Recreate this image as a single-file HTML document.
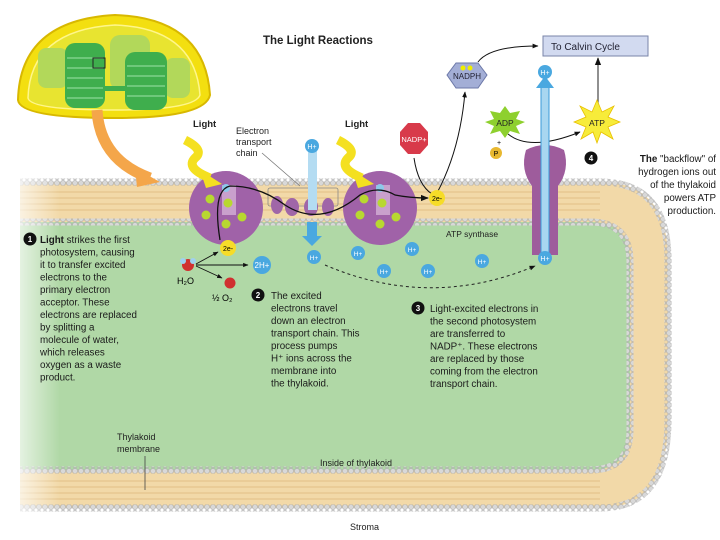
<!DOCTYPE html>
<html><head><meta charset="utf-8"><style>
body{margin:0;background:#fff;}
svg{display:block;font-family:"Liberation Sans",sans-serif;}
</style></head><body>
<svg width="720" height="540" viewBox="0 0 720 540" xmlns="http://www.w3.org/2000/svg">
<defs>
<pattern id="beads" width="6" height="6" patternUnits="userSpaceOnUse"><circle cx="3" cy="3" r="2.6" fill="#d8d8d8" stroke="#a8a8a8" stroke-width="0.6"/></pattern>
<linearGradient id="fadeL" x1="0" x2="1"><stop offset="0" stop-color="#fff" stop-opacity="1"/><stop offset="1" stop-color="#fff" stop-opacity="0"/></linearGradient>
<marker id="ah" viewBox="0 0 10 10" refX="9" refY="5" markerWidth="6" markerHeight="6" orient="auto"><path d="M0,1 L10,5 L0,9z" fill="#111"/></marker>
</defs>
<rect width="720" height="540" fill="#fff"/>

<!-- membrane -->
<path d="M20,182 H600 Q668,182 668,260 V420 Q668,508 600,508 H20 Z" fill="#f2d9a8"/>
<path d="M20,182 H600 Q668,182 668,260 V420 Q668,508 600,508 H20" fill="none" stroke="url(#beads)" stroke-width="7"/>
<g stroke="#dcb678" stroke-width="1" opacity="0.7">
<path d="M20,192 H600 M20,198 H600 M20,204 H600 M20,210 H600 M20,481 H600 M20,487 H600 M20,493 H600 M20,499 H600"/>
</g>
<path d="M20,222 H590 Q630,222 630,262 V430 Q630,470 590,470 H20 Z" fill="#b0d8a6"/>
<path d="M20,222 H590 Q630,222 630,262 V430 Q630,470 590,470 H20" fill="none" stroke="url(#beads)" stroke-width="7"/>
<rect x="0" y="175" width="60" height="340" fill="url(#fadeL)"/>

<!-- chloroplast -->
<path d="M18,100 Q20,20 115,15 Q205,18 210,95 Q205,118 115,118 Q20,118 18,100Z" fill="#f3df10" stroke="#d8b800" stroke-width="2"/>
<path d="M28,98 Q30,30 115,25 Q195,28 200,95 Q195,110 115,110 Q30,110 28,98Z" fill="#e8e430" stroke="#fff68a" stroke-width="1.5"/>
<rect x="38" y="48" width="30" height="40" rx="8" fill="#b2d85a"/>
<rect x="110" y="35" width="40" height="55" rx="10" fill="#b2d85a"/>
<rect x="165" y="58" width="25" height="40" rx="8" fill="#b2d85a"/>
<rect x="65" y="43" width="40" height="65" rx="10" fill="#3fae4d"/>
<rect x="125" y="52" width="42" height="58" rx="10" fill="#3fae4d"/>
<rect x="100" y="86" width="28" height="5" fill="#3fae4d"/>
<g stroke="#7fd08a" stroke-width="1.5"><path d="M67,58H103M67,68H103M67,78H103M67,88H103M67,98H103M127,66H165M127,76H165M127,86H165M127,96H165"/></g>
<rect x="93" y="58" width="12" height="10" fill="none" stroke="#222" stroke-width="1"/>
<path d="M97,110 Q100,160 150,178" fill="none" stroke="#f4a64a" stroke-width="11"/>
<path d="M135,168 L160,182 L137,187Z" fill="#f4a64a"/>

<text x="263" y="44" font-size="11.5" font-weight="bold" fill="#222">The Light Reactions</text>
<rect x="543" y="36" width="105" height="20" fill="#d2daf0" stroke="#7a84a8"/>
<text x="551" y="50" font-size="10" fill="#223">To Calvin Cycle</text>
<path d="M478,62 Q490,46 538,46" fill="none" stroke="#111" stroke-width="1" marker-end="url(#ah)"/>
<path d="M598,108 V58" stroke="#555" stroke-width="1.3" marker-end="url(#ah)"/>
<polygon points="447,75 456,63 478,63 487,75 478,88 456,88" fill="#a3aed6" stroke="#6c78a8"/>
<circle cx="463" cy="68" r="2.5" fill="#ee0"/><circle cx="470" cy="68" r="2.5" fill="#ee0"/>
<text x="467" y="79" font-size="8" text-anchor="middle" fill="#223">NADPH</text>
<polygon points="400,132 408,123 420,123 428,132 428,145 420,154 408,154 400,145" fill="#d83a4a"/>
<text x="414" y="142" font-size="7.5" text-anchor="middle" fill="#fff">NADP+</text>
<polygon points="505,106 510,113 520,111 516,119 525,122 516,126 520,134 510,131 505,138 500,131 490,134 494,126 485,122 494,119 490,111 500,113" fill="#8ed02e"/>
<text x="505" y="126" font-size="8.5" text-anchor="middle" fill="#222">ADP</text>
<text x="497" y="145" font-size="7">+</text>
<circle cx="496" cy="153" r="6" fill="#e8b830"/><text x="496" y="156" font-size="7" text-anchor="middle">P</text>
<polygon points="597,100 602,112 614,106 608,117 620,122 608,127 613,139 601,132 597,143 593,132 581,139 586,127 574,122 586,117 580,106 592,112" fill="#f7ec3a" stroke="#e8c000" stroke-width="0.8"/>
<text x="597" y="126" font-size="8.5" text-anchor="middle" fill="#222">ATP</text>
<path d="M508,134 Q530,152 580,132" fill="none" stroke="#111" stroke-width="1" marker-end="url(#ah)"/>

<!-- ATP synthase -->
<path d="M526,150 Q545,140 564,150 Q570,170 558,186 V255 H532 V186 Q520,170 526,150Z" fill="#9e5c9c"/>
<rect x="541" y="85" width="8" height="178" fill="#a8d6f0" stroke="#3a9ad8"/>
<path d="M536,88 L545,76 L554,88Z" fill="#4aa8e0"/>
<circle cx="545" cy="72" r="7" fill="#4aa8e0"/><text x="545" y="75" font-size="7" fill="#fff" text-anchor="middle">H+</text>
<circle cx="545" cy="258" r="7" fill="#4aa8e0"/><text x="545" y="261" font-size="7" fill="#fff" text-anchor="middle">H+</text>
<text x="446" y="237" font-size="8.5" fill="#222">ATP synthase</text>

<!-- ETC -->
<rect x="268" y="188" width="70" height="18" rx="2" fill="none" stroke="#888" stroke-width="0.8"/>
<g fill="#a066a8"><ellipse cx="277" cy="205" rx="6" ry="9"/><ellipse cx="292" cy="207" rx="7" ry="9"/><ellipse cx="311" cy="207" rx="7" ry="9"/><ellipse cx="328" cy="207" rx="6" ry="9"/></g>
<rect x="308" y="150" width="9" height="60" fill="#b4dcf2"/>
<circle cx="312" cy="146" r="7" fill="#4aa8e0"/><text x="312" y="149" font-size="7" fill="#fff" text-anchor="middle">H+</text>
<rect x="307" y="222" width="10" height="14" fill="#4aa8e0"/><path d="M302,236 L322,236 L312,246Z" fill="#4aa8e0"/>
<text x="236" y="134" font-size="9" fill="#222">Electron</text>
<text x="236" y="145" font-size="9" fill="#222">transport</text>
<text x="236" y="156" font-size="9" fill="#222">chain</text>
<path d="M262,153 L300,186" stroke="#777" stroke-width="0.8"/>

<!-- photosystems -->
<circle cx="226" cy="208" r="37" fill="#a062a8"/>
<rect x="222" y="185" width="14" height="30" fill="#c9a0cc"/>
<circle cx="380" cy="208" r="37" fill="#a062a8"/>
<rect x="376" y="185" width="14" height="30" fill="#c9a0cc"/>
<g fill="#b8d830"><circle cx="210" cy="199" r="4.5"/><circle cx="206" cy="215" r="4.5"/><circle cx="228" cy="203" r="4.5"/><circle cx="242" cy="217" r="4.5"/><circle cx="226" cy="224" r="4.5"/>
<circle cx="364" cy="199" r="4.5"/><circle cx="360" cy="215" r="4.5"/><circle cx="382" cy="203" r="4.5"/><circle cx="396" cy="217" r="4.5"/><circle cx="380" cy="224" r="4.5"/></g>
<circle cx="226" cy="188" r="4" fill="#8cc8ea"/><circle cx="380" cy="188" r="4" fill="#8cc8ea"/>
<path d="M220,240 Q212,190 230,186 Q260,186 285,205 Q320,228 360,195 Q378,185 395,195 Q410,198 428,198" fill="none" stroke="#111" stroke-width="1.3" marker-end="url(#ah)"/>
<path d="M437,193 Q460,150 465,92" fill="none" stroke="#111" stroke-width="1" marker-end="url(#ah)"/>
<path d="M414,158 Q418,185 432,194" fill="none" stroke="#111" stroke-width="1"/>
<circle cx="437" cy="198" r="8" fill="#f6dc28"/><text x="437" y="201" font-size="7" text-anchor="middle">2e-</text>

<!-- light -->
<text x="193" y="127" font-size="9.5" font-weight="bold" fill="#222">Light</text>
<text x="345" y="127" font-size="9.5" font-weight="bold" fill="#222">Light</text>
<path d="M185,140 Q205,150 195,158 Q185,168 210,178" fill="none" stroke="#f4e020" stroke-width="9"/>
<path d="M200,170 L222,184 L206,188Z" fill="#f4e020"/>
<path d="M338,140 Q358,150 348,158 Q338,168 362,178" fill="none" stroke="#f4e020" stroke-width="9"/>
<path d="M352,170 L374,184 L358,188Z" fill="#f4e020"/>

<!-- water etc -->
<circle cx="228" cy="248" r="8" fill="#f6dc28"/><text x="228" y="251" font-size="7" text-anchor="middle">2e-</text>
<circle cx="188" cy="265" r="6" fill="#d03030"/><circle cx="183" cy="261" r="3" fill="#9fd0f0"/><circle cx="193" cy="261" r="3" fill="#9fd0f0"/>
<text x="177" y="284" font-size="9">H₂O</text>
<path d="M196,264 L218,252" stroke="#111" stroke-width="0.9" marker-end="url(#ah)"/>
<path d="M196,265 L248,265" stroke="#111" stroke-width="0.9" marker-end="url(#ah)"/>
<path d="M196,266 L222,278" stroke="#111" stroke-width="0.9" marker-end="url(#ah)"/>
<circle cx="262" cy="265" r="9" fill="#4aa8e0"/><text x="262" y="268" font-size="8" fill="#fff" text-anchor="middle">2H+</text>
<circle cx="230" cy="283" r="5.5" fill="#d03030"/>
<text x="212" y="301" font-size="9">½ O₂</text>

<g fill="#4aa8e0"><circle cx="314" cy="257" r="7"/><circle cx="358" cy="253" r="7"/><circle cx="412" cy="249" r="7"/><circle cx="384" cy="271" r="7"/><circle cx="428" cy="271" r="7"/><circle cx="482" cy="261" r="7"/></g>
<g fill="#fff" font-size="6.5" text-anchor="middle"><text x="314" y="260">H+</text><text x="358" y="256">H+</text><text x="412" y="252">H+</text><text x="384" y="274">H+</text><text x="428" y="274">H+</text><text x="482" y="264">H+</text></g>
<path d="M325,265 Q430,310 535,266" fill="none" stroke="#222" stroke-width="1" stroke-dasharray="3,3" marker-end="url(#ah)"/>

<!-- step texts -->
<g font-size="9.8" fill="#1a1a1a">
<circle cx="30" cy="239" r="6.5" fill="#111"/><text x="30" y="242" fill="#fff" font-size="8" text-anchor="middle" font-weight="bold">1</text>
<text x="40" y="243"><tspan font-weight="bold">Light</tspan> strikes the first</text>
<text x="40" y="255.5">photosystem, causing</text>
<text x="40" y="268">it to transfer excited</text>
<text x="40" y="280.5">electrons to the</text>
<text x="40" y="293">primary electron</text>
<text x="40" y="305.5">acceptor. These</text>
<text x="40" y="318">electrons are replaced</text>
<text x="40" y="330.5">by splitting a</text>
<text x="40" y="343">molecule of water,</text>
<text x="40" y="355.5">which releases</text>
<text x="40" y="368">oxygen as a waste</text>
<text x="40" y="380.5">product.</text>
</g>
<g font-size="9.8" fill="#1a1a1a">
<circle cx="258" cy="295" r="6.5" fill="#111"/><text x="258" y="298" fill="#fff" font-size="8" text-anchor="middle" font-weight="bold">2</text>
<text x="271" y="299">The excited</text>
<text x="271" y="311.5">electrons travel</text>
<text x="271" y="324">down an electron</text>
<text x="271" y="336.5">transport chain. This</text>
<text x="271" y="349">process pumps</text>
<text x="271" y="361.5">H⁺ ions across the</text>
<text x="271" y="374">membrane into</text>
<text x="271" y="386.5">the thylakoid.</text>
</g>
<g font-size="9.8" fill="#1a1a1a">
<circle cx="418" cy="308" r="6.5" fill="#111"/><text x="418" y="311" fill="#fff" font-size="8" text-anchor="middle" font-weight="bold">3</text>
<text x="430" y="312">Light-excited electrons in</text>
<text x="430" y="324.5">the second photosystem</text>
<text x="430" y="337">are transferred to</text>
<text x="430" y="349.5">NADP⁺. These electrons</text>
<text x="430" y="362">are replaced by those</text>
<text x="430" y="374.5">coming from the electron</text>
<text x="430" y="387">transport chain.</text>
</g>
<g font-size="9.8" fill="#1a1a1a" text-anchor="end">
<circle cx="591" cy="158" r="6.5" fill="#111"/><text x="591" y="161" fill="#fff" font-size="8" text-anchor="middle" font-weight="bold">4</text>
<text x="716" y="162"><tspan font-weight="bold">The</tspan> "backflow" of</text>
<text x="716" y="175">hydrogen ions out</text>
<text x="716" y="188">of the thylakoid</text>
<text x="716" y="201">powers ATP</text>
<text x="716" y="214">production.</text>
</g>
<text x="117" y="440" font-size="9" fill="#222">Thylakoid</text>
<text x="117" y="452" font-size="9" fill="#222">membrane</text>
<path d="M145,456 V490" stroke="#444" stroke-width="0.8"/>
<text x="320" y="466" font-size="9" fill="#222">Inside of thylakoid</text>
<text x="350" y="530" font-size="9" fill="#222">Stroma</text>
</svg>
</body></html>
